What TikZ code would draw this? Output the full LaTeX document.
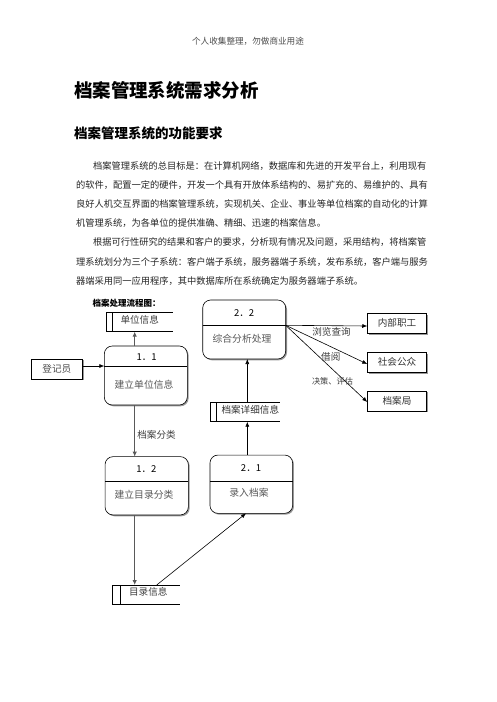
\documentclass[tikz,border=0pt]{standalone}
\usepackage{fontspec}
\setmainfont{Noto Sans CJK SC}
\usetikzlibrary{arrows.meta,shadows}
\newcommand{\myfs}[1]{\fontsize{#1}{#1}\selectfont}
\tikzset{
 every node/.style={inner sep=0pt, outer sep=0pt},
 shad/.style={drop shadow={shadow xshift=1.3pt, shadow yshift=-1.3pt, fill=black!40, opacity=1}},
 proc/.style={draw, line width=0.6pt, rounded corners=8pt, fill=white, shad},
 ent/.style={draw, line width=0.6pt, fill=white, shad, minimum width=59.5pt, minimum height=20pt, font=\myfs{9.6}, text=black!80},
 storebox/.style={minimum height=19pt},
 storeline/.style={line width=0.6pt},
 arr/.style={line width=0.6pt, -{Latex[length=5pt,width=4pt]}},
 garr/.style={line width=1.3pt, draw=black!65, -{Latex[length=5pt,width=4.5pt]}},
 num/.style={font=\myfs{9.5}},
 pname/.style={font=\myfs{9.8}, text=black!65},
 lab/.style={font=\myfs{9.6}, text=black!75},
 body/.style={anchor=west, font=\myfs{9.26}, text=black!85},
}
\begin{document}
\begin{tikzpicture}[x=1pt,y=-1pt]
\fill[white] (0,0) rectangle (496,702);
\useasboundingbox (0,0) rectangle (496,702);

% header and headings
\node[font=\myfs{8.6}, text=black!70] (hd) at (248,41) {个人收集整理，勿做商业用途};
\node[anchor=west, font=\myfs{18.5}\bfseries] (ti) at (74,90) {档案管理系统需求分析};
\node[anchor=west, font=\myfs{13.5}\bfseries] (st) at (74,133) {档案管理系统的功能要求};

% body text
\node[body] (l1) at (93,165.7) {档案管理系统的总目标是：在计算机网络，数据库和先进的开发平台上，利用现有};
\node[body] (l2) at (76,185) {的软件，配置一定的硬件，开发一个具有开放体系结构的、易扩充的、易维护的、具有};
\node[body] (l3) at (76,204.3) {良好人机交互界面的档案管理系统，实现机关、企业、事业等单位档案的自动化的计算};
\node[body] (l4) at (76,223.5) {机管理系统，为各单位的提供准确、精细、迅速的档案信息。};
\node[body] (l5) at (93,242.5) {根据可行性研究的结果和客户的要求，分析现有情况及问题，采用结构，将档案管};
\node[body] (l6) at (76,261.8) {理系统划分为三个子系统：客户端子系统，服务器端子系统，发布系统，客户端与服务};
\node[body] (l7) at (76,281) {器端采用同一应用程序，其中数据库所在系统确定为服务器端子系统。};

\node[anchor=west, font=\myfs{8.5}\bfseries] (ct) at (92.5,303) {档案处理流程图：};

% stores
\node[storebox, minimum width=66.7pt] (s1) at (139.3,322.2) {};
\draw[storeline] (s1.north east) -- (s1.north west) -- (s1.south west) -- (s1.south east);
\draw[storeline] ([xshift=6.3pt]s1.north west) -- ([xshift=6.3pt]s1.south west);
\node[lab] (s1t) at (139.7,319.8) {单位信息};

\node[storebox, minimum width=69pt] (s2) at (245,412.2) {};
\draw[storeline] (s2.north east) -- (s2.north west) -- (s2.south west) -- (s2.south east);
\draw[storeline] ([xshift=6pt]s2.north west) -- ([xshift=6pt]s2.south west);
\node[lab, text=black!80] (s2t) at (250.3,409.5) {档案详细信息};

\node[storebox, minimum width=67.3pt] (s3) at (146.3,594.5) {};
\draw[storeline] (s3.north east) -- (s3.north west) -- (s3.south west) -- (s3.south east);
\draw[storeline] ([xshift=8pt]s3.north west) -- ([xshift=8pt]s3.south west);
\node[lab] (s3t) at (148.3,592) {目录信息};

% processes
\node[proc, minimum width=83pt, minimum height=59pt] (p11) at (145.8,375.5) {};
\coordinate (p11l) at (104.3,366); \coordinate (p11r) at (187.3,366);
\draw[line width=0.6pt] (p11l) -- (p11r);
\node[num] (p11n) at (146.7,357.3) {1．1};
\node[pname] (p11t) at (144,385) {建立单位信息};

\node[proc, minimum width=83pt, minimum height=59pt] (p22) at (244.2,329.5) {};
\coordinate (p22l) at (202.7,325.3); \coordinate (p22r) at (285.7,325.3);
\draw[line width=0.6pt] (p22l) -- (p22r);
\node[num] (p22n) at (244.2,312.7) {2．2};
\node[pname] (p22t) at (242,339) {综合分析处理};

\node[proc, minimum width=83.3pt, minimum height=58.3pt] (p12) at (146.7,485.8) {};
\coordinate (p12l) at (105,481); \coordinate (p12r) at (188.3,481);
\draw[line width=0.6pt] (p12l) -- (p12r);
\node[num] (p12n) at (146.3,469.3) {1．2};
\node[pname] (p12t) at (144,495) {建立目录分类};

\node[proc, minimum width=82.7pt, minimum height=58.3pt] (p21) at (251.3,484.2) {};
\coordinate (p21l) at (210,481); \coordinate (p21r) at (292.7,481);
\draw[line width=0.6pt] (p21l) -- (p21r);
\node[num] (p21n) at (251,467.7) {2．1};
\node[pname] (p21t) at (249,492.7) {录入档案};

% external entities
\node[ent, minimum width=51.7pt, text=black!70] (e) at (56.8,369) {登记员};
\node[ent] (b1) at (397,323.3) {内部职工};
\node[ent] (b2) at (397,362.3) {社会公众};
\node[ent] (b3) at (397,401) {档案局};

% connectors
\coordinate (xl) at (134.7,0);
\coordinate (xr) at (247.3,0);
\draw[arr] (e.east |- p11l) -- (p11l);
\draw[garr] (xl |- p11.north) -- (xl |- s1.south);
\draw[garr] (xl |- p11.south) -- (xl |- p12.north);
\draw[garr] (xl |- p12.south) -- (xl |- s3.north);
\draw[arr] ([xshift=10.4pt]s3.north) -- ([xshift=-5.3pt]p21.south);
\draw[arr] (xr |- p21.north) -- (xr |- s2.south);
\draw[arr] (xr |- s2.north) -- (xr |- p22.south);
\draw[arr] (p22r) -- (b1.west |- 0,326);
\draw[arr] (p22r) -- ([yshift=-1.7pt]b2.west);
\draw[arr] (p22r) -- ([yshift=-1pt]b3.west);

% labels
\node[lab] (la) at (156.5,435) {档案分类};
\node[lab] (lb) at (331.5,331.7) {浏览查询};
\node[lab] (lc) at (330.8,357.3) {借阅};
\node[lab, font=\myfs{8.2}] (ld) at (332.5,381.7) {决策、评估};
\end{tikzpicture}
\end{document}
